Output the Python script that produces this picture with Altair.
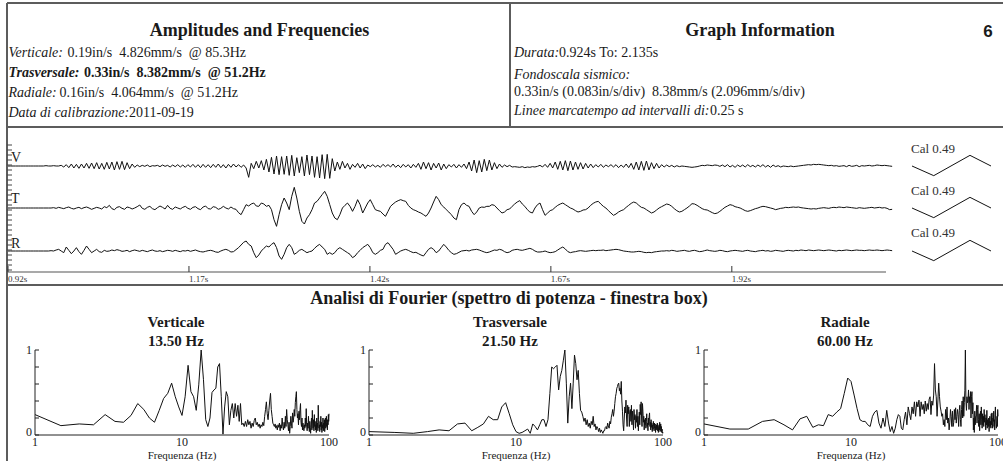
import altair as alt
import pandas as pd

SERIF = "Liberation Serif"
SANS = "Liberation Sans"
INK = "#1a1a1a"
FRAME = "#5c5c5c"

# ---------------- seismogram traces (counts; 1 count = 0.4 mm/s approx) ----------------
trace_names = ["V", "T", "R"]
sample_start_s = 0.92
sample_step_s = 0.0035

wave_v = [
    0, 0, 0, 0, 0, 0, 0, 0, 0, 0,
    0, 0, 0, 0, 0, 1, 0, 0, 1, 0,
    0, 2, -3, 4, -5, 6, -6, 5, -7, 6,
    -6, 8, -7, 9, -8, 10, -9, 8, -10, 11,
    -9, 12, -12, 13, -10, 14, -11, 10, -8, 6,
    -4, 3, -2, 2, -1, 3, -2, 1, 0, 2,
    -2, 3, -1, 2, -3, 3, -2, 4, -3, 3,
    -4, 4, -3, 5, -4, 4, -5, 5, -4, 4,
    -5, 5, -4, 6, -5, 4, -6, 5, -4, 6,
    -3, 4, -4, 3, -6, -34, 8, -8, 14, -6,
    16, -12, 20, -18, 26, -24, 30, -26, 28, -25,
    30, -28, 32, -30, 25, -20, 28, -30, 33, -26,
    30, -34, 28, -36, 34, -38, 35, -37, 22, -15,
    12, -10, 14, -6, 8, -10, 5, -4, 8, -6,
    6, -8, 3, -2, 4, -3, 2, -4, 5, -2,
    4, -3, 6, -4, 3, -5, 5, -3, 4, -6,
    5, -4, 8, -10, 12, -8, 10, -12, 8, -6,
    9, -12, 6, -8, 4, -3, 5, -6, 4, -4,
    6, -8, 12, -15, 18, -20, 16, -18, 20, -14,
    18, -12, 10, -8, 6, -4, 3, -2, 2, -3,
    -2, -3, -4, -2, -5, -3, -4, -2, -3, -1,
    2, -3, 5, -4, 8, -6, 12, -10, 14, -12,
    16, -14, 15, -12, 12, -10, 10, -9, 8, -6,
    6, -5, 4, -3, 5, -4, 3, -2, 4, -3,
    4, -5, 3, -4, 6, -5, 8, -10, 12, -12,
    14, -13, 15, -12, 10, -8, 8, -6, 4, -3,
    3, -2, 2, -3, 1, -2, 0, -1, -2, -3,
    -4, -3, -2, 0, 2, 1, 3, 2, 1, 3,
    2, -1, 3, -2, 4, -3, 2, -4, 3, -2,
    3, -3, 4, -2, 2, -3, 3, -2, 4, -3,
    2, -4, 3, -2, 1, -3, 0, -1, -2, 0,
    -2, -1, 0, 1, 2, 3, 4, 3, 5, 4,
    5, 4, 3, 2, 1, 2, 0, 1, -1, 0,
    1, -2, 2, -1, 0, 2, -2, 1, 0, 1,
    2, 0, 1, 3, 2, 1, 2, 1, 0, -1,
]

wave_t = [
    0, 0, 0, 0, 0, 0, 0, 0, 0, 0,
    0, 0, 0, 0, 0, 0, 0, 0, 1, -1,
    2, 0, -2, 1, 3, -1, -3, 0, 2, -2,
    1, 3, 0, -4, -1, 2, 0, -3, 4, 1,
    8, -2, -5, 2, 4, -1, -4, 3, 1, -3,
    0, 4, 9, -1, -4, 2, 5, -2, -5, 1,
    6, 2, -3, 8, -1, -4, 3, 0, -3, 2,
    5, -1, -4, 2, 4, -2, -5, 3, 6, -2,
    -3, 4, 2, -4, -1, 5, 0, -3, 3, -2,
    -4, -14, -20, -5, 10, 6, 12, 15, 6, 5,
    15, 12, 5, 8, -5, -35, -55, -20, 10, 30,
    15, -5, 35, 62, 30, -10, -40, -48, -30, -20,
    -5, 15, 20, 30, 40, 50, 35, 10, -15, -30,
    -35, -20, 0, 8, 15, 5, -10, 5, 25, 10,
    -15, 0, 15, 25, 10, -5, -8, -10, -18, -25,
    -10, 5, 12, 18, 22, 25, 22, 20, 8, 0,
    -5, -8, -12, -15, -20, -25, -15, 0, 18, 35,
    25, 10, 3, -5, -12, -20, -30, -35, -5, 10,
    15, 8, 5, -10, -20, -12, 0, 3, 2, 5,
    5, 10, 8, 0, -8, -15, -12, -5, -3, 5,
    12, 18, 22, 12, 5, -5, -12, -15, 0, 10,
    15, -5, -22, -15, -8, -5, 2, 8, 12, 15,
    10, 5, 0, -3, -8, -12, -10, -6, -5, 0,
    8, 14, 18, 20, 12, 5, 0, -8, -15, -22,
    -18, -12, -8, -5, 2, 8, 14, 18, 15, 8,
    2, 0, -5, -10, -15, -12, -6, 0, 4, 8,
    12, 10, 5, -2, -8, -12, -10, -5, 0, 6,
    13, 12, 8, 3, -2, -5, -6, -10, -14, -17,
    -15, -10, -4, 2, 6, 10, 8, 4, 2, 0,
    -4, -8, -10, -8, -5, -2, 0, 3, 5, 4,
    2, 0, -2, -5, -3, -1, 0, 2, 1, 2,
    3, 2, 3, 1, 0, -1, -2, -3, -2, -3,
    -1, 0, 1, 0, -1, 1, 2, 1, 3, 2,
    1, 3, 2, 1, 0, -1, 1, 0, -1, 0,
    1, 2, 0, 1, 2, 0, 1, -1, -5, -4,
]

wave_r = [
    0, 0, 0, 0, 0, 0, 0, 0, 0, 0,
    0, 0, 0, 0, 0, 0, 0, 1, 0, 3,
    5, 0, -5, 12, 2, -8, 0, 10, -2, -10,
    2, 15, 5, -5, 0, 5, -2, -4, 2, -1,
    0, 3, 1, 4, 2, -1, 0, 2, -2, 1,
    3, 1, -1, 2, 0, -2, 1, 3, 0, -1,
    1, -2, 0, 2, 1, -1, 2, 0, -2, 1,
    0, 2, -1, 1, 3, 0, -2, -3, -1, 1,
    2, 0, -3, -4, 0, 3, 5, 2, -3, -2,
    4, 10, 18, 26, 30, 20, 15, -5, -20, -12,
    0, 8, 15, 12, 20, 25, 10, -15, -25, -10,
    10, 20, 10, -10, -5, 2, 5, 0, -5, -2,
    0, 8, 15, 20, 12, 5, -10, -5, -10, -5,
    5, 10, 5, 0, -5, -10, -20, -15, -5, 2,
    10, 15, 20, 10, -5, -10, -5, 2, 5, 20,
    25, 15, 5, -10, -5, 0, 3, 5, 2, -2,
    -5, -4, -8, -12, -15, -5, 5, 10, 5, -5,
    0, 10, 20, 12, 2, -5, -10, -8, -4, 0,
    1, 2, 0, 3, 4, 5, 3, 0, -3, -5,
    -3, 0, 3, 2, 5, 3, -2, -5, -3, 2,
    4, 5, 3, 2, 4, 6, 8, 5, 0, -3,
    -3, -2, 0, -3, -5, -4, -2, 3, 8, 12,
    6, -2, -5, -3, -2, 0, 1, 0, -1, 0,
    1, 2, 1, 2, 2, 3, 1, 2, 3, 4,
    5, 4, 2, 0, -1, -2, -3, -3, -2, -1,
    -2, -4, -5, -4, -5, -3, -2, -1, 0, 0,
    1, 0, 2, 1, -1, 0, 1, 2, 0, -1,
    1, 2, 0, -2, -1, 1, 3, 1, 0, -1,
    0, 2, 1, -1, -2, 0, 1, 2, 1, 0,
    -1, 1, 2, 0, -1, -2, 0, 1, 2, 0,
    1, -1, 0, 2, 1, 0, -1, 1, 2, 1,
    0, 2, 1, 3, 2, 1, 3, 2, 1, 2,
    3, 2, 1, 2, 3, 2, 1, 0, 2, 1,
    2, 3, 2, 1, 2, 3, 2, 2, 1, 2,
    3, 2, 2, 3, 2, 1, 2, 3, 2, 1,
]

trace_offsets = [318, 192, 63]          # stacking offsets of V, T, R (counts)
time_ticks = [0.92, 1.17, 1.42, 1.67, 1.92]
time_tick_labels = ["0.92s", "1.17s", "1.42s", "1.67s", "1.92s"]
time_axis_end = 2.133
ruler_ticks = [6, 21, 36, 51, 66, 81, 96, 111, 126, 141, 156, 171, 186,
               201, 216, 231, 246, 261, 276, 291, 306, 321, 336, 351, 366, 381]

cal_times_ms = [0, 30, 80, 109]
cal_counts = [0, -29, 32, 0]
cal_label = "Cal 0.49"

# ---------------- power spectra (0.5 Hz bins from 1 Hz) ----------------
spec_v = [
    0.24, 0.11, 0.13, 0.12, 0.24, 0.16, 0.15, 0.23, 0.37, 0.30,
    0.20, 0.15, 0.29, 0.43, 0.49, 0.61, 0.45, 0.33, 0.23, 0.45,
    0.82, 0.51, 0.45, 0.29, 0.59, 1.00, 0.65, 0.18, 0.10, 0.20,
    0.50, 0.53, 0.55, 0.80, 0.84, 0.45, 0.01, 0.33, 0.51, 0.45,
    0.12, 0.29, 0.37, 0.20, 0.37, 0.22, 0.35, 0.16, 0.37, 0.12,
    0.14, 0.10, 0.16, 0.10, 0.18, 0.12, 0.16, 0.08, 0.14, 0.10,
    0.17, 0.20, 0.12, 0.15, 0.10, 0.13, 0.08, 0.12, 0.10, 0.15,
    0.11, 0.22, 0.30, 0.39, 0.25, 0.18, 0.29, 0.40, 0.49, 0.30,
    0.22, 0.14, 0.12, 0.10, 0.13, 0.08, 0.11, 0.06, 0.12, 0.09,
    0.14, 0.05, 0.12, 0.08, 0.20, 0.10, 0.06, 0.15, 0.08, 0.22,
    0.10, 0.30, 0.18, 0.12, 0.05, 0.15, 0.02, 0.10, 0.22, 0.14,
    0.08, 0.26, 0.15, 0.20, 0.30, 0.22, 0.38, 0.45, 0.51, 0.30,
    0.20, 0.25, 0.12, 0.28, 0.18, 0.30, 0.37, 0.15, 0.10, 0.20,
    0.06, 0.14, 0.09, 0.05, 0.12, 0.08, 0.20, 0.10, 0.31, 0.12,
    0.05, 0.14, 0.08, 0.22, 0.10, 0.04, 0.16, 0.09, 0.02, 0.12,
    0.20, 0.06, 0.29, 0.14, 0.08, 0.18, 0.05, 0.24, 0.10, 0.16,
    0.06, 0.12, 0.03, 0.20, 0.09, 0.14, 0.05, 0.35, 0.18, 0.08,
    0.12, 0.04, 0.16, 0.10, 0.22, 0.06, 0.15, 0.03, 0.12, 0.08,
    0.20, 0.05, 0.14, 0.10, 0.18, 0.04, 0.12, 0.20, 0.08, 0.15,
    0.22, 0.10, 0.14, 0.06, 0.18, 0.12, 0.24, 0.16, 0.25,
]
spec_t = [
    0.04, 0.03, 0.02, 0.04, 0.06, 0.05, 0.13, 0.14, 0.05, 0.09,
    0.13, 0.22, 0.18, 0.18, 0.33, 0.38, 0.25, 0.12, 0.04, 0.02,
    0.03, 0.05, 0.07, 0.02, 0.13, 0.10, 0.06, 0.12, 0.18, 0.18,
    0.10, 0.18, 0.49, 0.80, 0.78, 0.80, 0.82, 0.53, 0.69, 0.76,
    0.88, 1.00, 0.61, 0.14, 0.45, 0.61, 0.31, 0.61, 0.94, 0.84,
    0.65, 0.76, 0.49, 0.29, 0.27, 0.22, 0.16, 0.20, 0.12, 0.18,
    0.10, 0.14, 0.08, 0.16, 0.12, 0.22, 0.10, 0.13, 0.06, 0.10,
    0.08, 0.04, 0.08, 0.03, 0.06, 0.04, 0.02, 0.05, 0.05, 0.09,
    0.10, 0.07, 0.14, 0.11, 0.08, 0.16, 0.13, 0.21, 0.25, 0.30,
    0.22, 0.28, 0.37, 0.45, 0.49, 0.55, 0.57, 0.60, 0.61, 0.52,
    0.55, 0.48, 0.63, 0.40, 0.28, 0.12, 0.05, 0.20, 0.33, 0.26,
    0.41, 0.20, 0.10, 0.35, 0.25, 0.33, 0.10, 0.28, 0.30, 0.16,
    0.35, 0.12, 0.28, 0.20, 0.06, 0.30, 0.18, 0.24, 0.08, 0.22,
    0.15, 0.30, 0.10, 0.22, 0.05, 0.18, 0.27, 0.12, 0.36, 0.24,
    0.39, 0.20, 0.10, 0.37, 0.28, 0.15, 0.22, 0.06, 0.18, 0.12,
    0.20, 0.08, 0.16, 0.25, 0.10, 0.14, 0.05, 0.20, 0.12, 0.22,
    0.26, 0.10, 0.15, 0.06, 0.18, 0.09, 0.14, 0.04, 0.12, 0.07,
    0.16, 0.10, 0.05, 0.14, 0.08, 0.13, 0.03, 0.10, 0.06, 0.12,
    0.08, 0.14, 0.05, 0.10, 0.03, 0.09, 0.12, 0.06, 0.15, 0.04,
    0.08, 0.13, 0.05, 0.10, 0.03, 0.07, 0.04, 0.02, 0.03,
]
spec_r = [
    0.13, 0.07, 0.07, 0.16, 0.18, 0.12, 0.06, 0.19, 0.22, 0.09,
    0.12, 0.11, 0.24, 0.22, 0.27, 0.31, 0.49, 0.67, 0.63, 0.47,
    0.31, 0.18, 0.16, 0.16, 0.12, 0.10, 0.22, 0.27, 0.29, 0.14,
    0.08, 0.20, 0.10, 0.29, 0.14, 0.04, 0.10, 0.02, 0.08, 0.18,
    0.24, 0.22, 0.08, 0.06, 0.18, 0.27, 0.12, 0.33, 0.25, 0.18,
    0.33, 0.25, 0.39, 0.22, 0.39, 0.33, 0.41, 0.22, 0.39, 0.30,
    0.36, 0.25, 0.40, 0.28, 0.37, 0.30, 0.42, 0.45, 0.24, 0.40,
    0.35, 0.47, 0.84, 0.53, 0.45, 0.22, 0.40, 0.61, 0.45, 0.33,
    0.28, 0.22, 0.25, 0.12, 0.18, 0.10, 0.30, 0.18, 0.33, 0.14,
    0.20, 0.06, 0.15, 0.30, 0.22, 0.10, 0.28, 0.10, 0.15, 0.30,
    0.18, 0.32, 0.14, 0.22, 0.30, 0.24, 0.10, 0.29, 0.35, 0.18,
    0.10, 0.30, 0.40, 0.20, 0.45, 0.22, 0.38, 0.52, 1.00, 0.40,
    0.29, 0.45, 0.38, 0.40, 0.53, 0.30, 0.45, 0.38, 0.51, 0.20,
    0.45, 0.51, 0.25, 0.38, 0.06, 0.20, 0.03, 0.28, 0.12, 0.22,
    0.22, 0.35, 0.14, 0.30, 0.35, 0.18, 0.10, 0.25, 0.05, 0.20,
    0.28, 0.12, 0.33, 0.18, 0.08, 0.25, 0.12, 0.22, 0.10, 0.30,
    0.15, 0.24, 0.18, 0.06, 0.20, 0.12, 0.29, 0.08, 0.18, 0.14,
    0.10, 0.20, 0.04, 0.14, 0.22, 0.10, 0.16, 0.08, 0.25, 0.12,
    0.26, 0.14, 0.08, 0.20, 0.16, 0.28, 0.10, 0.18, 0.06, 0.24,
    0.33, 0.20, 0.12, 0.08, 0.14, 0.22, 0.10, 0.30, 0.22,
]
spec_start_hz = 1.0
spec_step_hz = 0.5
spec_names = ["Verticale", "Trasversale", "Radiale"]
spec_peaks = ["13.50 Hz", "21.50 Hz", "60.00 Hz"]
y_ticks = [0, 0.2, 0.4, 0.6, 0.8, 1.0]
x_ticks = [1, 10, 100]
x_tick_labels = ["1", "10", "100"]

# ---------------- helpers ----------------
one = pd.DataFrame({"k": [0]})


def rule(x1, y1, x2, y2, color=FRAME, width=2.0):
    return alt.Chart(one).mark_rule(color=color, strokeWidth=width).encode(
        x=alt.value(x1), y=alt.value(y1), x2=alt.value(x2), y2=alt.value(y2))


def text(s, x, y, size=14, weight="normal", style="normal", align="left",
         font=SERIF, color=INK):
    return alt.Chart(one).mark_text(
        align=align, baseline="alphabetic", font=font, fontSize=size,
        fontWeight=weight, fontStyle=style, color=color,
    ).encode(x=alt.value(x), y=alt.value(y), text=alt.value(s))


NB = "\u00a0"
layers = []

# frame
layers += [
    rule(7, 3, 1003, 3),
    rule(7, 3, 7, 461),
    rule(7, 127, 1003, 127),
    rule(510, 3, 510, 127),
    rule(7, 285, 1003, 285),
]

# header – left
layers += [
    text("Amplitudes and Frequencies", 259.5, 36, size=18, weight="bold", align="center"),
    text("Verticale:", 8.5, 57, style="italic"),
    text(f"0.19in/s{NB}{NB}4.826mm/s{NB}{NB}@ 85.3Hz", 67.5, 57),
    text("Trasversale:", 8.5, 77, style="italic", weight="bold"),
    text(f"0.33in/s{NB}{NB}8.382mm/s{NB}{NB}@ 51.2Hz", 84, 77, weight="bold"),
    text("Radiale:", 8.5, 97, style="italic"),
    text(f"0.16in/s{NB}{NB}4.064mm/s{NB}{NB}@ 51.2Hz", 59.5, 97),
    text("Data di calibrazione:", 8.5, 117, style="italic"),
    text("2011-09-19", 129, 117),
]
# header – right
layers += [
    text("Graph Information", 760, 36, size=18, weight="bold", align="center"),
    text("6", 988, 37, size=17, weight="bold", align="center", font=SANS),
    text("Durata:", 514, 57, style="italic"),
    text("0.924s To: 2.135s", 559, 57),
    text("Fondoscala sismico:", 514, 79, style="italic"),
    text(f"0.33in/s (0.083in/s/div){NB}{NB}8.38mm/s (2.096mm/s/div)", 514, 96),
    text("Linee marcatempo ad intervalli di:", 514, 115, style="italic"),
    text("0.25 s", 710, 115),
]

# ---------------- seismogram ----------------
time_scale = alt.Scale(domain=[0.92, time_axis_end], range=[8, 886], nice=False, zero=False)
wave_scale = alt.Scale(domain=[0, 432], range=[272, 128], nice=False, zero=False)

rows = []
for name, vals, off in zip(trace_names, [wave_v, wave_t, wave_r], trace_offsets):
    for i, a in enumerate(vals):
        rows.append({"trace": name, "i": i,
                     "t": round(sample_start_s + i * sample_step_s, 5),
                     "y": a + off})
wave_df = pd.DataFrame(rows)

layers.append(
    alt.Chart(wave_df).mark_line(color="#111111", strokeWidth=1).encode(
        x=alt.X("t:Q", scale=time_scale, axis=None),
        y=alt.Y("y:Q", scale=wave_scale, axis=None),
        detail="trace:N", order="i:Q")
)

# left ruler
ruler_df = pd.DataFrame({"c": ruler_ticks})
layers.append(
    alt.Chart(ruler_df).mark_rule(color="#444444", strokeWidth=1).encode(
        x=alt.value(7), x2=alt.value(12),
        y=alt.Y("c:Q", scale=wave_scale, axis=None))
)

# trace letters
layers += [
    text("V", 11, 162, size=14),
    text("T", 11, 203, size=14),
    text("R", 11, 248, size=14),
]

# time axis
axis_df = pd.DataFrame({"t0": [time_ticks[0]], "t1": [time_axis_end]})
layers.append(
    alt.Chart(axis_df).mark_rule(color="#555555", strokeWidth=1.2).encode(
        x=alt.X("t0:Q", scale=time_scale, axis=None), x2="t1:Q", y=alt.value(272))
)
tick_df = pd.DataFrame({"t": time_ticks, "label": time_tick_labels})
layers.append(
    alt.Chart(tick_df).mark_rule(color="#333333", strokeWidth=1).encode(
        x=alt.X("t:Q", scale=time_scale, axis=None), y=alt.value(266), y2=alt.value(272))
)
layers.append(
    alt.Chart(tick_df).mark_text(align="left", baseline="alphabetic", font=SERIF,
                                 fontSize=9, color="#333333").encode(
        x=alt.X("t:Q", scale=time_scale, axis=None), y=alt.value(282), text="label:N")
)

# calibration pulses
cal_scale = alt.Scale(domain=[0, cal_times_ms[-1]], range=[912, 991], nice=False, zero=False)
cal_rows = []
for name, off in zip(trace_names, trace_offsets):
    for j, (tm, c) in enumerate(zip(cal_times_ms, cal_counts)):
        cal_rows.append({"trace": name, "j": j, "ms": tm, "y": c + off})
cal_df = pd.DataFrame(cal_rows)
layers.append(
    alt.Chart(cal_df).mark_line(color="#111111", strokeWidth=1).encode(
        x=alt.X("ms:Q", scale=cal_scale, axis=None),
        y=alt.Y("y:Q", scale=wave_scale, axis=None),
        detail="trace:N", order="j:Q")
)
for yb in (153, 195, 237):
    layers.append(text(cal_label, 911, yb, size=13, color="#333333"))

# ---------------- spectra ----------------
layers.append(text("Analisi di Fourier (spettro di potenza - finestra box)", 509, 304,
                   size=18, weight="bold", align="center"))

panel_x0 = [35, 369, 704]
title_cx = [176, 510, 845]
PW = 294
for x0, tcx, vals, name, peak in zip(panel_x0, title_cx, [spec_v, spec_t, spec_r],
                                     spec_names, spec_peaks):
    fx = alt.Scale(type="log", domain=[1, 100], range=[x0, x0 + PW], nice=False)
    py = alt.Scale(domain=[0, 1], range=[435, 350], nice=False, zero=False)
    sdf = pd.DataFrame({"f": [spec_start_hz + spec_step_hz * k for k in range(len(vals))],
                        "p": vals})
    layers.append(
        alt.Chart(sdf).mark_line(color="#111111", strokeWidth=1).encode(
            x=alt.X("f:Q", scale=fx, axis=None),
            y=alt.Y("p:Q", scale=py, axis=None), order="f:Q")
    )
    # y axis line
    yax = pd.DataFrame({"f": [1], "p0": [0], "p1": [1]})
    layers.append(
        alt.Chart(yax).mark_rule(color="#222222", strokeWidth=1).encode(
            x=alt.X("f:Q", scale=fx, axis=None),
            y=alt.Y("p0:Q", scale=py, axis=None), y2="p1:Q")
    )
    ytdf = pd.DataFrame({"f": [1] * len(y_ticks), "p": y_ticks})
    layers.append(
        alt.Chart(ytdf).mark_rule(color="#222222", strokeWidth=1).encode(
            x=alt.X("f:Q", scale=fx, axis=None), x2=alt.value(x0 + 4),
            y=alt.Y("p:Q", scale=py, axis=None))
    )
    for pv, lab, ddy in ((1, "1", 0), (0, "0", -3)):
        ldf = pd.DataFrame({"f": [1], "p": [pv], "lab": [lab]})
        layers.append(
            alt.Chart(ldf).mark_text(align="right", baseline="middle", font=SERIF,
                                     fontSize=12, color=INK, dx=-3, dy=ddy).encode(
                x=alt.X("f:Q", scale=fx, axis=None),
                y=alt.Y("p:Q", scale=py, axis=None), text="lab:N")
        )
    # x axis line
    xax = pd.DataFrame({"f0": [1], "f1": [100], "p": [0]})
    layers.append(
        alt.Chart(xax).mark_rule(color="#222222", strokeWidth=1).encode(
            x=alt.X("f0:Q", scale=fx, axis=None), x2="f1:Q",
            y=alt.Y("p:Q", scale=py, axis=None))
    )
    xl = pd.DataFrame({"f": x_ticks, "lab": x_tick_labels})
    layers.append(
        alt.Chart(xl).mark_text(align="center", baseline="alphabetic", font=SERIF,
                                fontSize=12, color=INK).encode(
            x=alt.X("f:Q", scale=fx, axis=None), y=alt.value(445.5), text="lab:N")
    )
    layers.append(text("Frequenza (Hz)", x0 + PW / 2, 458.5, size=11, align="center"))
    layers.append(text(name, tcx, 327, size=15, weight="bold", align="center"))
    layers.append(text(peak, tcx, 346, size=15, weight="bold", align="center"))

chart = (
    alt.layer(*layers)
    .resolve_scale(x="independent", y="independent")
    .properties(width=1003, height=461, autosize=alt.AutoSizeParams(type="none"),
                padding=0, background="white")
    .configure_view(strokeWidth=0)
)

chart.save("out.html", embed_options={"renderer": "svg", "actions": False})
